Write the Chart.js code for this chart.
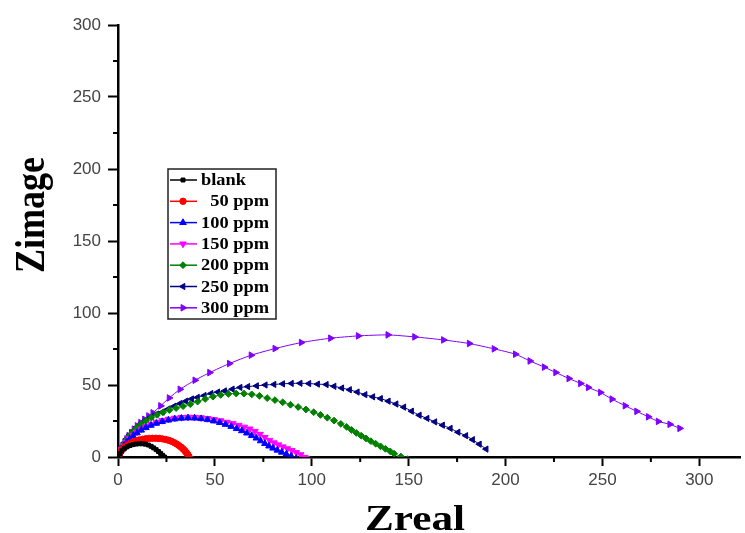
<!DOCTYPE html>
<html>
<head>
<meta charset="utf-8">
<script src="https://cdn.jsdelivr.net/npm/chart.js@4/dist/chart.umd.min.js"></script>
<style>
 body{margin:0;background:#fff;}
 #wrap{width:745px;height:533px;}
</style>
</head>
<body>
<div id="wrap"><canvas id="chart" width="745" height="533"></canvas></div>
<script>
/* ===== data ===== */
const labels = ["blank","  50 ppm","100 ppm","150 ppm","200 ppm","250 ppm","300 ppm"];
const colors = ["#000000","#ff0000","#0000ff","#ff00ff","#008000","#000080","#8000ff"];
const xTitle = "Zreal";
const yTitle = "Zimage";

const blankX = [0,1,2,3.3,4.7,6.2,7.8,9.4,11,12.6,14.2,15.7,17.1,18.4,19.7,20.9,22,23,24,25];
const blankY = [0,2.3,4.3,5.9,7.1,8,8.6,9,9.2,9.2,8.9,8.3,7.4,6.3,5.1,3.8,2.5,1.2,0,-1];

const p50X = [0,0.7,1.5,2.5,3.6,4.9,6.3,7.8,9.4,11,12.7,14.4,16.1,17.8,19.5,21.2,22.9,24.5,26.1,27.6,29,30.3,31.5,32.6,33.6,34.5,35.3,36,36.6,37];
const p50Y = [0,2,3.9,5.6,7.1,8.4,9.5,10.4,11.2,11.8,12.3,12.7,12.9,13,13,12.9,12.6,12.2,11.6,10.9,10,9,7.9,6.8,5.6,4.3,3,1.7,0.4,-1];

const p100X = [0,0.8,1.8,3,4.4,6,7.8,9.8,12,14.4,17,19.8,22.8,26,29.3,32.7,36.1,39.5,42.9,46.2,49.4,52.5,55.5,58.4,61.2,63.9,66.5,69,71.4,73.6,75.8,77.9,80,82.2,84.5,86.9,89.4,92];
const p100Y = [0,2.6,5.2,7.7,10.1,12.4,14.6,16.7,18.6,20.4,22,23.4,24.6,25.6,26.4,26.9,27.1,27,26.6,25.9,25,23.9,22.6,21.2,19.7,18.2,16.6,14.9,13.1,11.2,9.3,7.6,6.1,4.7,3.3,2,0.6,-1];

const p150X = [0,0.8,1.8,3,4.4,6,7.8,9.8,12,14.4,17,19.8,22.8,26,29.3,32.7,36.1,39.5,42.9,46.3,49.7,53,56.2,59.3,62.3,65.2,68,70.7,73.3,75.8,78.2,80.5,82.8,85.1,87.4,89.7,92,94.3,96.4,97.2];
const p150Y = [0,2.7,5.4,8,10.5,12.9,15.2,17.4,19.4,21.2,22.8,24.2,25.4,26.3,27,27.5,27.7,27.6,27.3,26.8,26,25.2,24.2,23.2,22,20.8,19.5,17.8,15.8,13.6,11.6,9.9,8.5,7.1,5.8,4.5,3.1,1.6,-0.2,-1];

const p200X = [0,0.8,1.8,3,4.4,6,7.8,9.8,12,14.5,17.2,20.1,23.2,26.5,30,33.6,37.3,41.1,45,49,53,57,61,65,69,73,77,81,85,89,93,97,101,104.5,108,111.5,115,118,120.5,123,125.5,128,130.5,133,135.5,138,140.5,142.5,146,149.5];
const p200Y = [0,3,6,9,12,14.9,17.7,20.4,22.9,25.2,27.4,29.3,31,32.6,34,35.3,36.7,38.5,40.3,41.9,43.1,43.8,44.1,44,43.5,42.5,40.9,39.5,38,36.3,34.7,33,31.1,29.2,27.3,25.3,23,20.9,18.8,16.7,14.8,12.9,11,9.2,7.4,5.7,3.9,2.3,0.3,-1.5];

const p250X = [0,0.8,1.8,3,4.4,6,7.8,9.8,12,14.5,17.3,20.1,23,26,29,32,35,38,41,44.5,48,51.5,55,59,63,67,71.5,76,80.5,85,89.5,94,98.5,103,107.5,111.5,115.5,119.5,123.5,127.5,131.5,135.5,139.5,143.5,147.5,151.5,155.5,159.5,163.5,167.5,171.5,175.5,179.5,183,186.5,190];
const p250Y = [0,3.2,6.4,9.5,12.5,15.4,18.2,20.9,23.4,25.8,28,29.8,31.3,33.4,35.3,37.1,38.8,40.3,41.4,42.7,44.1,45.1,45.9,47.1,48.3,48.9,49.4,50,50.4,50.8,51.1,51.2,51,50.6,50.3,49.1,47.9,46.7,45.1,43.3,41.8,40.6,38.8,36.8,34.6,31.8,29,26.8,24.4,22.1,19.9,17.2,14.8,12,8.9,5.5];

const p300X = [0,0.5,1.1,1.8,2.6,3.5,4.5,5.6,6.9,8.3,9.9,11.7,13.7,15.8,18,22,26.4,32,39.7,47.3,57.5,68.7,81,94.6,109.7,124,139.3,153.1,168,181.3,194.1,205.1,212.6,220,225.9,232.7,238.7,242.7,249,254.9,261.7,267.7,273.7,278.8,284.8,289.9];
const p300Y = [0,2,4,6,8.2,10.4,12.6,14.8,17,19.3,21.6,23.9,26.2,28.5,30.7,35.5,41,47,53.3,58.6,64.9,70.7,75.3,79.5,82.5,84.1,84.8,83.4,81.3,78.8,75.1,71.4,66.7,62.4,58.7,54.5,51.1,48.3,44.8,40.2,35.6,31.7,27.9,24.7,22.7,19.9];

const xTicks = [0,50,100,150,200,250,300];
const yTicks = [0,50,100,150,200,250,300];
const xMinor = [25,75,125,175,225,275];
const yMinor = [25,75,125,175,225,275];

/* ===== marker styles ===== */
const styles = [
 {pointStyle:"rect",rotation:0,radius:2.8},
 {pointStyle:"circle",rotation:0,radius:3.2},
 {pointStyle:"triangle",rotation:0,radius:3.8},
 {pointStyle:"triangle",rotation:180,radius:3.8},
 {pointStyle:"rectRot",rotation:0,radius:3.4},
 {pointStyle:"triangle",rotation:-90,radius:3.6},
 {pointStyle:"triangle",rotation:90,radius:3.8}
];

const series = [[blankX,blankY],[p50X,p50Y],[p100X,p100Y],[p150X,p150Y],[p200X,p200Y],[p250X,p250Y],[p300X,p300Y]];

const datasets = series.map((s,i)=>({
 label:labels[i],
 data:s[0].map((x,k)=>({x:x,y:s[1][k]})),
 showLine:true,
 borderColor:colors[i],
 backgroundColor:colors[i],
 borderWidth:1,
 tension:0.2,
 pointStyle:styles[i].pointStyle,
 pointRotation:styles[i].rotation,
 pointRadius:styles[i].radius,
 pointBorderWidth:1,
 pointBorderColor:colors[i],
 pointBackgroundColor:colors[i]
}));

/* ===== plugins ===== */
// short ticks between the labelled ones
const minorTicks = {
 id:"minorTicks",
 afterDraw(c){
  const ctx=c.ctx, xs=c.scales.x, ys=c.scales.y, a=c.chartArea;
  ctx.save();
  ctx.strokeStyle="#000";
  ctx.lineWidth=2;
  ctx.beginPath();
  xMinor.forEach(v=>{
   const px=xs.getPixelForValue(v);
   ctx.moveTo(px,a.bottom);ctx.lineTo(px,a.bottom+5);
  });
  yMinor.forEach(v=>{
   const py=ys.getPixelForValue(v);
   ctx.moveTo(a.left-5,py);ctx.lineTo(a.left,py);
  });
  ctx.stroke();
  ctx.restore();
 }
};

// axis titles, a bit wider than normal like the original
const axisTitles = {
 id:"axisTitles",
 afterDraw(c){
  const ctx=c.ctx;
  ctx.save();
  ctx.fillStyle="#000";
  ctx.font="bold 36px 'Liberation Serif', 'Times New Roman', serif";
  ctx.textAlign="center";
  ctx.textBaseline="alphabetic";
  ctx.save();
  ctx.translate(415,530);
  ctx.scale(1.2,1);
  ctx.fillText(xTitle,0,0);
  ctx.restore();
  ctx.save();
  ctx.translate(44,215);
  ctx.scale(1.15,1);
  ctx.rotate(-Math.PI/2);
  ctx.fillText(yTitle,0,0);
  ctx.restore();
  ctx.restore();
 }
};

const boxLegend = {
 id:"boxLegend",
 afterDraw(c){
  const ctx=c.ctx;
  const bx=168, by=169, bw=108, bh=150, step=21.3;
  ctx.save();
  ctx.fillStyle="#fff";
  ctx.fillRect(bx,by,bw,bh);
  ctx.strokeStyle="#222";
  ctx.lineWidth=1.5;
  ctx.strokeRect(bx,by,bw,bh);
  ctx.font="bold 16px 'Liberation Serif', 'Times New Roman', serif";
  ctx.textBaseline="middle";
  c.data.datasets.forEach((d,i)=>{
   const y=by+11+i*step;
   ctx.strokeStyle=d.borderColor;
   ctx.fillStyle=d.borderColor;
   ctx.lineWidth=1.5;
   ctx.beginPath();ctx.moveTo(bx+2,y);ctx.lineTo(bx+29,y);ctx.stroke();
   ctx.lineWidth=1;
   if(Chart.helpers && Chart.helpers.drawPoint){
    Chart.helpers.drawPoint(ctx,{pointStyle:d.pointStyle,rotation:d.pointRotation,radius:d.pointRadius,borderWidth:1},bx+15,y);
   }else{
    ctx.beginPath();ctx.arc(bx+15,y,3,0,Math.PI*2);ctx.fill();
   }
   ctx.fillStyle="#000";
   ctx.save();
   ctx.translate(bx+33,y+1);
   ctx.scale(1.15,1);
   ctx.fillText(d.label,0,0);
   ctx.restore();
  });
  ctx.restore();
 }
};

/* ===== chart ===== */
const tickFont = {family:"'Liberation Sans', Arial, sans-serif",size:17};

new Chart(document.getElementById("chart"),{
 type:"scatter",
 data:{datasets:datasets},
 options:{
  responsive:false,
  animation:false,
  layout:{padding:{top:25,right:0,left:0,bottom:0}},
  plugins:{legend:{display:false},tooltip:{enabled:false}},
  scales:{
   x:{
    type:"linear",min:0,max:321,
    afterBuildTicks:s=>{s.ticks=xTicks.map(v=>({value:v}));},
    afterFit:s=>{s.height=76;},
    ticks:{font:tickFont,color:"#444",padding:4,maxRotation:0},
    grid:{drawOnChartArea:false,drawTicks:true,tickLength:9,tickWidth:2,tickColor:"#000"},
    border:{color:"#000",width:2.5}
   },
   y:{
    type:"linear",min:0,max:300,
    afterBuildTicks:s=>{s.ticks=yTicks.map(v=>({value:v}));},
    afterFit:s=>{s.width=118;},
    ticks:{font:tickFont,color:"#444",padding:7},
    grid:{drawOnChartArea:false,drawTicks:true,tickLength:10,tickWidth:2,tickColor:"#000"},
    border:{color:"#000",width:2.5}
   }
  }
 },
 plugins:[minorTicks,axisTitles,boxLegend]
});
</script>
</body>
</html>
